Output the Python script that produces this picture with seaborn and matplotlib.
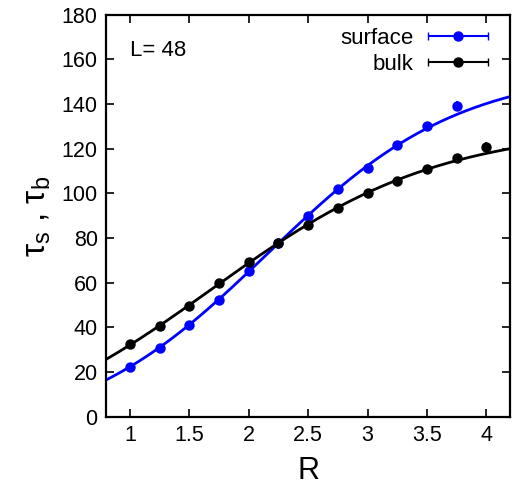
import numpy as np
import matplotlib
matplotlib.use("Agg")
import matplotlib.pyplot as plt
from matplotlib.legend_handler import HandlerErrorbar
import seaborn as sns

# data
R = [1.0, 1.25, 1.5, 1.75, 2.0, 2.25, 2.5, 2.75, 3.0, 3.25, 3.5, 3.75, 4.0]
tau_s = [22.5, 31.0, 41.0, 52.5, 65.5, 78.0, 90.0, 102.0, 111.5, 121.5, 130.0, 139.0]
tau_s_err = [0.4, 0.4, 0.5, 0.5, 0.6, 0.6, 0.7, 0.8, 0.9, 1.0, 1.2, 2.2]
tau_b = [32.5, 40.5, 49.5, 60.0, 69.5, 78.0, 86.0, 93.5, 100.0, 105.5, 111.0, 116.0, 121.0]
tau_b_err = [0.4, 0.4, 0.4, 0.5, 0.5, 0.5, 0.6, 0.6, 0.7, 0.8, 0.9, 1.2, 2.2]
x_ticks = [1, 1.5, 2, 2.5, 3, 3.5, 4]
y_ticks = [0, 20, 40, 60, 80, 100, 120, 140, 160, 180]


def fit_logistic(x, y, w8):
    # weighted least squares fit of a + b / (1 + exp(-(x - x0) / w))
    x = np.asarray(x); y = np.asarray(y); w8 = np.asarray(w8)
    best = None
    for x0 in np.linspace(1.5, 3.5, 201):
        for w in np.linspace(0.2, 1.5, 131):
            s = 1 / (1 + np.exp(-(x - x0) / w))
            A = np.column_stack([np.ones_like(x), s])
            coef = np.linalg.lstsq(A * w8[:, None], y * w8, rcond=None)[0]
            err = np.sum(((A @ coef - y) * w8) ** 2)
            if best is None or err < best[0]:
                best = (err, coef, x0, w)
    _, (a, b), x0, w = best
    return lambda t: a + b / (1 + np.exp(-(t - x0) / w))


sns.set_style("ticks")
plt.rcParams["font.family"] = ["Liberation Sans", "DejaVu Sans"]
plt.rcParams["mathtext.fontset"] = "custom"
plt.rcParams["mathtext.rm"] = "Liberation Sans"
for k in ["text.color", "axes.labelcolor", "xtick.color", "ytick.color"]:
    plt.rcParams[k] = "black"

fig = plt.figure(figsize=(5.2, 4.91), dpi=100)
ax = fig.add_axes([0.204, 0.151, 0.777, 0.819])

# the fit leaves out the outlying last point of each set
n_s = len(tau_s)
f_s = fit_logistic(R[:n_s - 1], tau_s[:-1], 1 / np.array(tau_s_err[:-1]))
f_b = fit_logistic(R[:-1], tau_b[:-1], 1 / np.array(tau_b_err[:-1]))
xs = np.linspace(0.8, 4.2, 300)
sns.lineplot(x=xs, y=f_s(xs), color="#0000ff", lw=2, ax=ax)
sns.lineplot(x=xs, y=f_b(xs), color="black", lw=2, ax=ax)

ax.errorbar(R[:n_s], tau_s, yerr=tau_s_err, fmt="o", color="#0000ff",
            ms=6.5, capsize=0, elinewidth=1.2)
ax.errorbar(R, tau_b, yerr=tau_b_err, fmt="o", color="black",
            ms=6.5, capsize=0, elinewidth=1.2)

# gnuplot-like legend samples: horizontal bar with caps
h_s = ax.errorbar([np.nan], [np.nan], xerr=[1], fmt="o", color="#0000ff",
                  ms=6.5, capsize=3, elinewidth=1.5)
h_b = ax.errorbar([np.nan], [np.nan], xerr=[1], fmt="o", color="black",
                  ms=6.5, capsize=3, elinewidth=1.5)
ax.legend([h_s, h_b], ["surface", "bulk"], loc="upper right", frameon=False,
          markerfirst=False, fontsize=16, handlelength=2.8, handletextpad=0.6,
          borderaxespad=0.2, labelspacing=0.2, bbox_to_anchor=(0.98, 1.0),
          handler_map={h_s: HandlerErrorbar(xerr_size=1.35),
                       h_b: HandlerErrorbar(xerr_size=1.35)})

ax.text(0.06, 0.91, "L= 48", transform=ax.transAxes, fontsize=16, va="center")

ax.set_xlim(0.8, 4.2)
ax.set_ylim(0, 180)
ax.set_xticks(x_ticks)
ax.set_xticklabels(["1", "1.5", "2", "2.5", "3", "3.5", "4"])
ax.set_yticks(y_ticks)
ax.tick_params(direction="in", top=True, right=True, labelsize=15.5, length=6,
               width=1.2, pad=6, colors="black")
for s in ax.spines.values():
    s.set_linewidth(1.6)
    s.set_color("black")

ax.set_xlabel("R", fontsize=22, labelpad=7)
ax.set_ylabel(r"τ$_{\mathrm{s}}$ , τ$_{\mathrm{b}}$", fontsize=24, labelpad=6)

fig.savefig("out.png", dpi=100)
